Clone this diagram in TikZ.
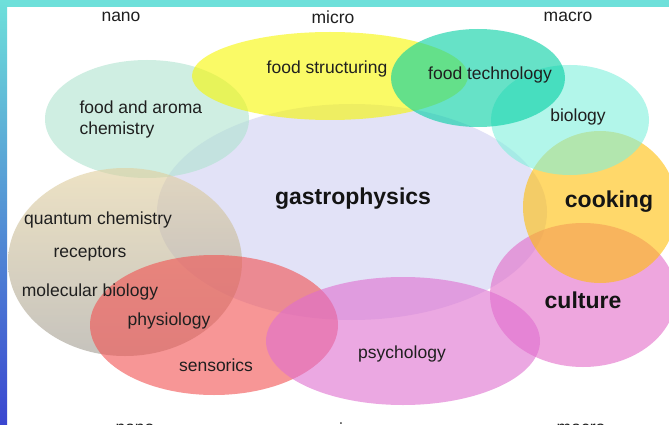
\documentclass[tikz,border=0pt]{standalone}
\usepackage{fontspec}
\setmainfont{Liberation Sans}
\definecolor{gastro}{HTML}{D0D0F2}
\definecolor{aroma}{HTML}{AFE3CF}
\definecolor{struct}{HTML}{F7F700}
\definecolor{tech}{HTML}{00CFA3}
\definecolor{bio}{HTML}{7FF0DC}
\definecolor{cook}{HTML}{FFBE07}
\definecolor{cult}{HTML}{E36BC8}
\definecolor{quantop}{HTML}{E1CF9D}
\definecolor{quanbot}{HTML}{A09B91}
\definecolor{sens}{HTML}{F25050}
\definecolor{psych}{HTML}{DF6ECF}
\definecolor{barcyan}{HTML}{6EE0DA}
\definecolor{barblue}{HTML}{3A46D0}
\begin{document}
\begin{tikzpicture}[x=1pt,y=-1pt,
    blob/.style={opacity=0.6},
    lbl/.style={font=\fontsize{17.5}{21}\selectfont, text=black!88},
    big/.style={font=\fontsize{23}{27}\selectfont\bfseries, text=black!92}]
\clip (0,0) rectangle (669,425);
\fill[white] (0,0) rectangle (669,425);

% the circles
\fill[gastro,blob] (352,212) ellipse [x radius=195, y radius=108];
\fill[aroma,blob] (147,119) ellipse [x radius=102, y radius=59];
\fill[struct,blob] (330,76) ellipse [x radius=138, y radius=44];
\fill[cult,blob] (583,295) ellipse [x radius=93, y radius=72];
\fill[cook,blob] (600,207) ellipse [x radius=77, y radius=76];
\fill[bio,blob] (570,120) ellipse [x radius=79, y radius=55];
\fill[tech,blob] (478,78) ellipse [x radius=87, y radius=49];
\shade[top color=quantop,bottom color=quanbot,blob] (125,262) ellipse [x radius=117, y radius=94];
\fill[sens,blob] (214,325) ellipse [x radius=124, y radius=70];
\fill[psych,blob] (403,341) ellipse [x radius=137, y radius=64];

% labels
\node[lbl,align=left,anchor=west] (aroma) at (76,119) {food and aroma\\chemistry};
\node[lbl] (struct) at (327,69) {food structuring};
\node[lbl] (tech) at (490,75) {food technology};
\node[lbl] (bio) at (578,117) {biology};
\node[big] (gastro) at (353,199) {gastrophysics};
\node[big] (cook) at (609,202) {cooking};
\node[big] (cult) at (583,300) {culture};
\node[lbl] (quantum) at (98,220) {quantum chemistry};
\node[lbl] (recept) at (90,254) {receptors};
\node[lbl] (molbio) at (90,292) {molecular biology};
\node[lbl] (physio) at (169,321) {physiology};
\node[lbl] (sens) at (216,365) {sensorics};
\node[lbl] (psych) at (402,354) {psychology};

\foreach \lv/\xa/\xb in {nano/121/135, micro/333/346, macro/568/581}
{
    \node[lbl] (top-\lv) at (\xa,17) {\lv};
    \node[lbl] (bot-\lv) at (\xb,429) {\lv};
}

% frame
\fill[barcyan] (0,0) rectangle (669,7);
\shade[top color=barcyan,bottom color=barblue] (0,0) rectangle (7,425);
\end{tikzpicture}
\end{document}
